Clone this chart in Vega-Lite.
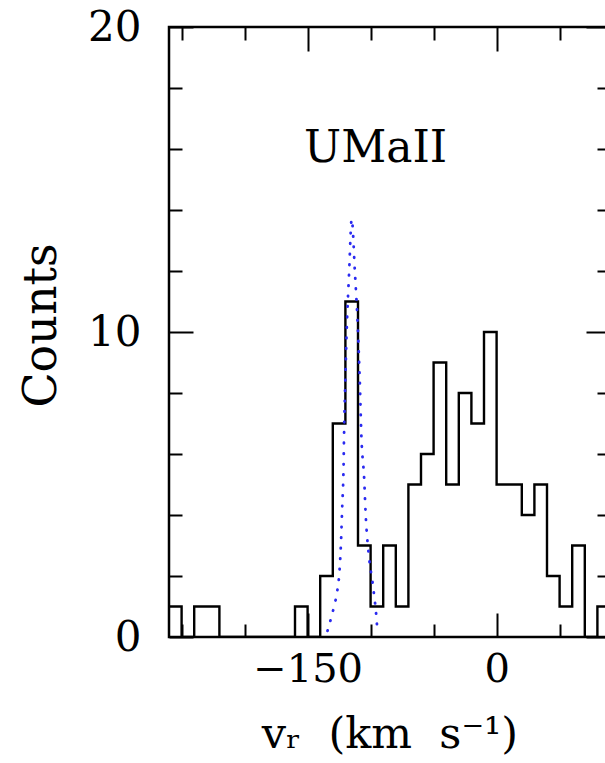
{
  "$schema": "https://vega.github.io/schema/vega-lite/v6.json",
  "autosize": "none",
  "width": 441,
  "height": 610,
  "padding": {"left": 169, "top": 27, "right": 0, "bottom": 126},
  "background": "white",
  "config": {
    "view": {"stroke": "black", "strokeWidth": 2.5},
    "axis": {
      "grid": false,
      "domain": false,
      "tickColor": "black",
      "tickWidth": 2,
      "labelFont": "DejaVu Serif",
      "labelColor": "black",
      "labelFlush": false,
      "labelOverlap": false,
      "titleFont": "DejaVu Serif",
      "titleColor": "black",
      "titleFontWeight": "normal"
    }
  },
  "datasets": {
    "hist": [
      {"v": -260, "n": 1}, {"v": -250, "n": 0}, {"v": -240, "n": 1}, {"v": -230, "n": 1},
      {"v": -220, "n": 0}, {"v": -210, "n": 0}, {"v": -200, "n": 0}, {"v": -190, "n": 0},
      {"v": -180, "n": 0}, {"v": -170, "n": 0}, {"v": -160, "n": 1}, {"v": -150, "n": 0},
      {"v": -140, "n": 2}, {"v": -130, "n": 7}, {"v": -120, "n": 11}, {"v": -110, "n": 3},
      {"v": -100, "n": 1}, {"v": -90, "n": 3}, {"v": -80, "n": 1}, {"v": -70, "n": 5},
      {"v": -60, "n": 6}, {"v": -50, "n": 9}, {"v": -40, "n": 5}, {"v": -30, "n": 8},
      {"v": -20, "n": 7}, {"v": -10, "n": 10}, {"v": 0, "n": 5}, {"v": 10, "n": 5},
      {"v": 20, "n": 4}, {"v": 30, "n": 5}, {"v": 40, "n": 2}, {"v": 50, "n": 1},
      {"v": 60, "n": 3}, {"v": 70, "n": 0}, {"v": 80, "n": 1}, {"v": 90, "n": 1}
    ],
    "fit": [
      {"v": -134.2, "n": 0.2}, {"v": -131.5, "n": 0.6}, {"v": -129.0, "n": 1.0},
      {"v": -126.5, "n": 1.5}, {"v": -125.0, "n": 2.0}, {"v": -123.6, "n": 3.0},
      {"v": -122.5, "n": 4.3}, {"v": -121.5, "n": 5.5}, {"v": -121.0, "n": 6.8},
      {"v": -120.0, "n": 8.5}, {"v": -119.0, "n": 10.0}, {"v": -117.0, "n": 12.0},
      {"v": -115.0, "n": 13.7}, {"v": -112.5, "n": 12.0}, {"v": -110.0, "n": 10.0},
      {"v": -108.3, "n": 8.0}, {"v": -107.5, "n": 6.8}, {"v": -105.0, "n": 5.1},
      {"v": -104.0, "n": 4.1}, {"v": -101.2, "n": 2.6}, {"v": -98.5, "n": 1.8},
      {"v": -97.0, "n": 1.3}, {"v": -95.9, "n": 0.9}, {"v": -94.6, "n": 0.2}
    ]
  },
  "resolve": {"axis": {"x": "independent", "y": "independent"}},
  "layer": [
    {
      "data": {"name": "hist"},
      "mark": {"type": "line", "interpolate": "step-after", "color": "black", "strokeWidth": 2.4, "clip": true},
      "encoding": {
        "x": {
          "field": "v", "type": "quantitative",
          "scale": {"domain": [-260, 90], "nice": false, "zero": false},
          "axis": {
            "orient": "bottom",
            "values": [-250, -200, -150, -100, -50, 0, 50],
            "tickSize": {"condition": {"test": "datum.value === -150 || datum.value === 0", "value": -24}, "value": -13},
            "labelExpr": "datum.value === -150 || datum.value === 0 ? datum.label : ''",
            "labelFontSize": 40,
            "labelPadding": 36,
            "labelBaseline": "top",
            "title": "vᵣ\u00a0\u00a0(km\u00a0\u00a0s⁻¹)",
            "titleFontSize": 43,
            "titleY": 110,
            "titleBaseline": "alphabetic"
          }
        },
        "y": {
          "field": "n", "type": "quantitative",
          "scale": {"domain": [0, 20], "nice": false},
          "axis": {
            "orient": "left",
            "values": [0, 2, 4, 6, 8, 10, 12, 14, 16, 18, 20],
            "tickSize": {"condition": {"test": "datum.value % 10 === 0", "value": -24}, "value": -13},
            "labelExpr": "datum.value % 10 === 0 ? datum.label : ''",
            "labelFontSize": 42,
            "labelPadding": 52,
            "title": "Counts",
            "titleFontSize": 46,
            "titleAngle": -90,
            "titleAlign": "center",
            "titleBaseline": "middle",
            "titleX": -128,
            "titleY": 298
          }
        }
      }
    },
    {
      "data": {"name": "fit"},
      "mark": {"type": "line", "interpolate": "monotone", "color": "#2a2af0", "strokeWidth": 2.8, "strokeDash": [0.5, 10], "strokeCap": "round"},
      "encoding": {
        "x": {
          "field": "v", "type": "quantitative",
          "axis": {
            "orient": "top",
            "values": [-250, -200, -150, -100, -50, 0, 50],
            "tickSize": {"condition": {"test": "datum.value === -150 || datum.value === 0", "value": -24}, "value": -13},
            "labels": false,
            "title": null
          }
        },
        "y": {
          "field": "n", "type": "quantitative",
          "axis": {
            "orient": "right",
            "values": [0, 2, 4, 6, 8, 10, 12, 14, 16, 18, 20],
            "tickSize": {"condition": {"test": "datum.value % 10 === 0", "value": -24}, "value": -13},
            "labels": false,
            "title": null
          }
        }
      }
    },
    {
      "data": {"values": [{"name": "UMaII"}]},
      "mark": {"type": "text", "font": "DejaVu Serif", "fontSize": 44, "color": "black", "align": "center", "baseline": "middle"},
      "encoding": {
        "x": {"datum": -96, "type": "quantitative", "axis": null},
        "y": {"datum": 16, "type": "quantitative", "axis": null},
        "text": {"field": "name"}
      }
    }
  ]
}
